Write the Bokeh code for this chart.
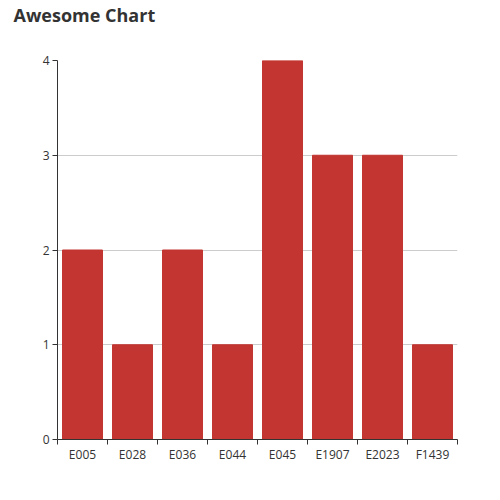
import numpy as np

from bokeh.embed import file_html
from bokeh.models import FixedTicker, Grid, LinearAxis, Range1d, Title
from bokeh.plotting import figure
from bokeh.resources import INLINE

categories = ["E005", "E028", "E036", "E044", "E045", "E1907", "E2023", "F1439"]
counts = [2, 1, 2, 1, 4, 3, 3, 1]
y_ticks = [0, 1, 2, 3, 4]

bar_color = "#c23531"
axis_color = "#333333"
font = "Open Sans"

pos = np.arange(len(categories)) + 0.5

p = figure(width=492, height=490, x_range=Range1d(0, len(categories)),
           y_range=Range1d(0, 4), x_axis_type=None, y_axis_type=None,
           output_backend="svg", toolbar_location=None,
           min_border_left=57, min_border_right=35,
           min_border_top=60, min_border_bottom=51)
p.outline_line_color = None
p.background_fill_color = "white"
p.border_fill_color = "white"

p.add_layout(Grid(dimension=1, ticker=FixedTicker(ticks=y_ticks),
                  grid_line_color="#cccccc"))

p.vbar(x=pos, top=counts, width=0.8, color=bar_color)

# y axis
yax = LinearAxis(ticker=FixedTicker(ticks=y_ticks))
yax.axis_line_color = axis_color
yax.major_tick_line_color = axis_color
yax.major_tick_out = 5
yax.major_tick_in = 0
yax.minor_tick_line_color = None
yax.major_label_standoff = 3
yax.major_label_text_font = font
yax.major_label_text_font_size = "12px"
yax.major_label_text_color = axis_color
p.add_layout(yax, "left")

# x axis ticks between categories
xticks = LinearAxis(ticker=FixedTicker(ticks=list(range(len(categories) + 1))))
xticks.axis_line_color = axis_color
xticks.major_tick_line_color = axis_color
xticks.major_tick_out = 5
xticks.major_tick_in = 0
xticks.minor_tick_line_color = None
xticks.major_label_text_font_size = "0px"
xticks.major_label_standoff = 0
xticks.major_label_overrides = {i: "" for i in range(len(categories) + 1)}
p.add_layout(xticks, "below")

# x axis category labels at bar centres
xlab = LinearAxis(ticker=FixedTicker(ticks=list(pos)))
xlab.major_label_overrides = {float(x): c for x, c in zip(pos, categories)}
xlab.axis_line_color = None
xlab.major_tick_line_color = None
xlab.minor_tick_line_color = None
xlab.major_label_standoff = -5
xlab.major_label_text_font = font
xlab.major_label_text_font_size = "12px"
xlab.major_label_text_color = axis_color
p.add_layout(xlab, "below")

# invisible spacer between frame and title
spacer = LinearAxis(ticker=FixedTicker(ticks=[0]))
spacer.axis_line_color = None
spacer.major_tick_line_color = None
spacer.minor_tick_line_color = None
spacer.major_tick_out = 34
spacer.major_tick_in = 0
spacer.major_label_standoff = 0
spacer.major_label_text_font_size = "0px"
spacer.major_label_overrides = {0: ""}
p.add_layout(spacer, "above")

p.add_layout(Title(text="Awesome Chart", text_font=font, text_font_size="18px",
                   text_font_style="bold", text_color=axis_color,
                   offset=-44, standoff=0), "above")

open("out.html", "w").write(file_html(p, INLINE))
